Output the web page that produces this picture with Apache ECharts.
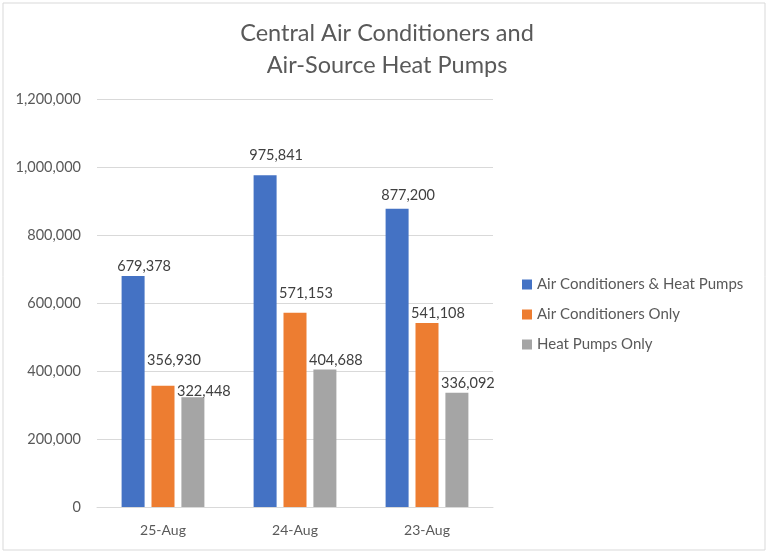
<!DOCTYPE html>
<html>
<head>
<meta charset="utf-8">
<script src="https://cdn.jsdelivr.net/npm/echarts@6/dist/echarts.min.js"></script>
<style>
  html, body { margin: 0; padding: 0; background: #fff; }
  #chart { width: 768px; height: 554px; }
</style>
</head>
<body>
<div id="chart"></div>
<script>
var categories = ['25-Aug', '24-Aug', '23-Aug'];
var seriesNames = ['Air Conditioners & Heat Pumps', 'Air Conditioners Only', 'Heat Pumps Only'];
var acAndHp = [679378, 975841, 877200];
var acOnly = [356930, 571153, 541108];
var hpOnly = [322448, 404688, 336092];
var colors = ['#4472c4', '#ed7d31', '#a5a5a5'];
// extra pixels some labels were nudged upward in the original
var acAndHpLift = [0, 10, 4];
var acOnlyLift = [16, 10, 0];
var hpOnlyLift = [-3, 0, 0];

var FONT = 'Lato, "Open Sans", sans-serif';

function fmt(v) {
  return v.toLocaleString('en-US');
}

function makeSeries(name, data, lift) {
  return {
    name: name,
    type: 'bar',
    data: data.map(function (v, i) {
      return { value: v, label: { offset: [11, -lift[i]] } };
    }),
    barWidth: 23,
    barGap: '30%',
    label: {
      show: true,
      position: 'top',
      distance: 2,
      color: '#404040',
      fontSize: 14.5,
      fontFamily: FONT,
      formatter: function (p) { return fmt(p.value); }
    }
  };
}

var chart = echarts.init(document.getElementById('chart'));

chart.setOption({
  color: colors,
  animation: false,
  title: {
    text: 'Central Air Conditioners and\nAir-Source Heat Pumps',
    left: 382,
    textAlign: 'center',
    top: 12,
    textStyle: {
      color: '#595959',
      fontSize: 23.5,
      fontWeight: 'normal',
      fontFamily: FONT,
      lineHeight: 32
    }
  },
  graphic: [{
    type: 'rect',
    shape: { x: 3, y: 3, width: 762, height: 547 },
    style: { fill: 'none', stroke: '#d9d9d9', lineWidth: 1 },
    silent: true
  }],
  legend: {
    orient: 'vertical',
    left: 517,
    top: 271,
    itemWidth: 10,
    itemHeight: 10,
    itemGap: 13,
    icon: 'rect',
    textStyle: { color: '#595959', fontSize: 15, fontFamily: FONT, lineHeight: 17 },
    data: seriesNames
  },
  grid: {
    left: 97,
    right: 275,
    top: 99,
    bottom: 47
  },
  xAxis: {
    type: 'category',
    data: categories,
    axisLine: { lineStyle: { color: '#d9d9d9' } },
    axisTick: { show: false },
    axisLabel: { color: '#595959', fontSize: 14, fontFamily: FONT, margin: 16 }
  },
  yAxis: {
    type: 'value',
    min: 0,
    max: 1200000,
    interval: 200000,
    axisLine: { show: false },
    axisTick: { show: false },
    splitLine: { lineStyle: { color: '#d9d9d9' } },
    axisLabel: {
      color: '#595959',
      fontSize: 14.5,
      fontFamily: FONT,
      margin: 16,
      formatter: function (v) { return fmt(v); }
    }
  },
  series: [
    makeSeries(seriesNames[0], acAndHp, acAndHpLift),
    makeSeries(seriesNames[1], acOnly, acOnlyLift),
    makeSeries(seriesNames[2], hpOnly, hpOnlyLift)
  ]
});
</script>
</body>
</html>
